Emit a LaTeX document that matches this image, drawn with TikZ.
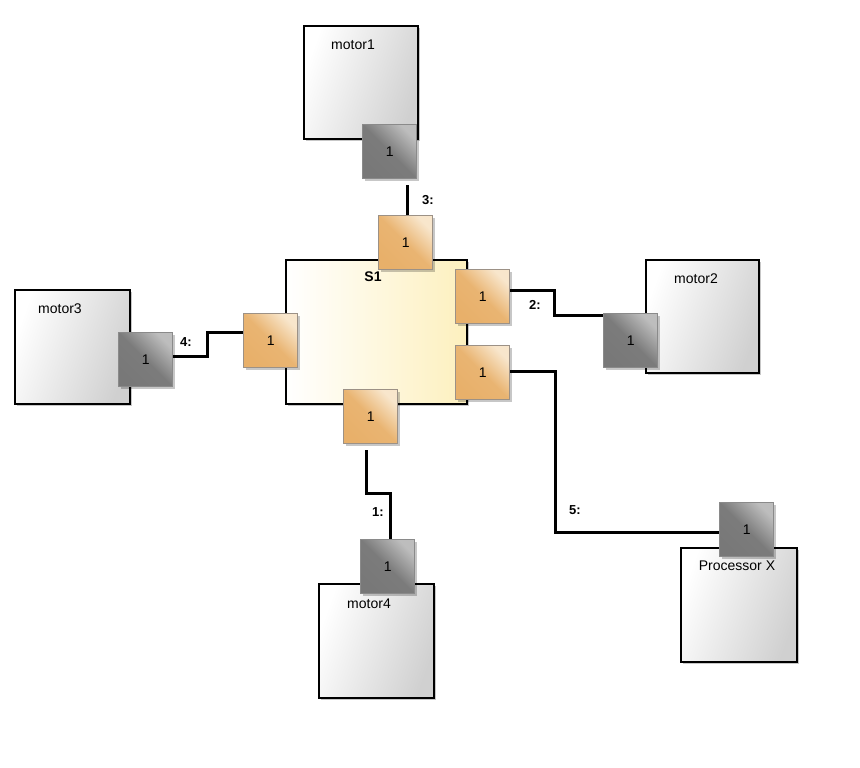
\documentclass[tikz,border=0pt]{standalone}
\usepackage{fontspec}
\setmainfont{Liberation Sans}
\usetikzlibrary{shadows,calc}
\pgfdeclarelayer{background}
\pgfsetlayers{background,main}
\definecolor{boxgray}{HTML}{D0D0D0}
\definecolor{s1yellow}{HTML}{FDF0BE}
\definecolor{orlight}{HTML}{F8E6CC}
\definecolor{ordark}{HTML}{E8B06A}
\definecolor{orborder}{HTML}{9C9186}
\definecolor{grlight}{HTML}{BDBDBD}
\definecolor{grdark}{HTML}{787878}
\definecolor{grborder}{HTML}{8A8A8A}
\begin{document}
\begin{tikzpicture}[x=1pt,y=-1pt,
  shadowed/.style={drop shadow={opacity=0.22,shadow xshift=2.5pt,shadow yshift=-2.5pt,fill=black}},
  box/.style={draw=black,line width=1.6pt,left color=white,right color=boxgray,shading angle=70,anchor=north west,inner sep=0pt,shadowed},
  sbox/.style={draw=black,line width=1.6pt,left color=white,right color=s1yellow,anchor=north west,inner sep=0pt,shadowed},
  port/.style={line width=1.3pt,anchor=north west,inner sep=0pt,minimum width=54pt,minimum height=54pt,font=\fontsize{14}{16}\selectfont,shadowed},
  oport/.style={port,draw=orborder,top color=orlight,bottom color=ordark,middle color=ordark!92!orlight,shading angle=-45},
  gport/.style={port,draw=grborder,top color=grlight,bottom color=grdark,middle color=grdark!95!grlight,shading angle=-45},
  title/.style={font=\fontsize{14}{16}\selectfont,inner sep=0pt},
  wire/.style={line width=3pt,line join=miter},
  wlabel/.style={font=\bfseries\fontsize{13}{15}\selectfont,inner sep=0pt}
]
\useasboundingbox (0,0) rectangle (860,768);

% boxes
\node[box,minimum width=114pt,minimum height=113pt] (m1) at (303,25) {};
\node[box,minimum width=115pt,minimum height=114pt] (m3) at (14,289) {};
\node[box,minimum width=113pt,minimum height=113pt] (m2) at (645,259) {};
\node[box,minimum width=115pt,minimum height=114pt] (m4) at (318,583) {};
\node[box,minimum width=116pt,minimum height=114pt] (px) at (680,547) {};
\node[sbox,minimum width=181pt,minimum height=144pt] (s1) at (285,259) {};

\node[title] (m1t) at ($(m1.north west)+(50,20)$) {motor1};
\node[title] (m3t) at ($(m3.north west)+(46,20)$) {motor3};
\node[title] (m2t) at ($(m2.north west)+(51,20)$) {motor2};
\node[title] (m4t) at ($(m4.north west)+(51,21)$) {motor4};
\node[title] (pxt) at ($(px.north west)+(57,19)$) {Processor X};
\node[title,font=\bfseries\fontsize{14}{16}\selectfont] (s1t) at ($(s1.north west)+(88,18)$) {S1};

% ports
\node[gport] (m1p) at (362,124) {1};
\node[gport] (m3p) at (118,332) {1};
\node[gport] (m2p) at (603,313) {1};
\node[gport] (m4p) at (360,539) {1};
\node[gport] (pxp) at (719,502) {1};
\node[oport] (s1top) at (378,215) {1};
\node[oport] (s1left) at (243,313) {1};
\node[oport] (s1r1) at (455,269) {1};
\node[oport] (s1r2) at (455,345) {1};
\node[oport] (s1bot) at (343,389) {1};

% connectors
\begin{pgfonlayer}{background}
\draw[wire] ($(m3p.east)+(0,-3)$) -- ++(34,0) |- ($(s1left.west)+(0,-8)$);
\draw[wire] ($(m1p.south -| s1top.north)+(2,6)$) -- ($(s1top.north)+(2,0)$);
\draw[wire] ($(s1r1.east)+(0,-6)$) -- ++(44,0) |- ($(m2p.west)+(0,-25)$);
\draw[wire] ($(s1r2.east)+(0,-1)$) -- ++(45,0) |- ($(pxp.west)+(0,3)$);
\draw[wire] ($(s1bot.south)+(-4,6)$) -- ++(0,43) -| ($(m4p.north)+(3,0)$);
\end{pgfonlayer}

% wire labels
\node[wlabel] (l3) at (428,200) {3:};
\node[wlabel] (l4) at (186,342) {4:};
\node[wlabel] (l2) at (535,305) {2:};
\node[wlabel] (l5) at (575,510) {5:};
\node[wlabel] (l1) at (378,512) {1:};
\end{tikzpicture}
\end{document}
